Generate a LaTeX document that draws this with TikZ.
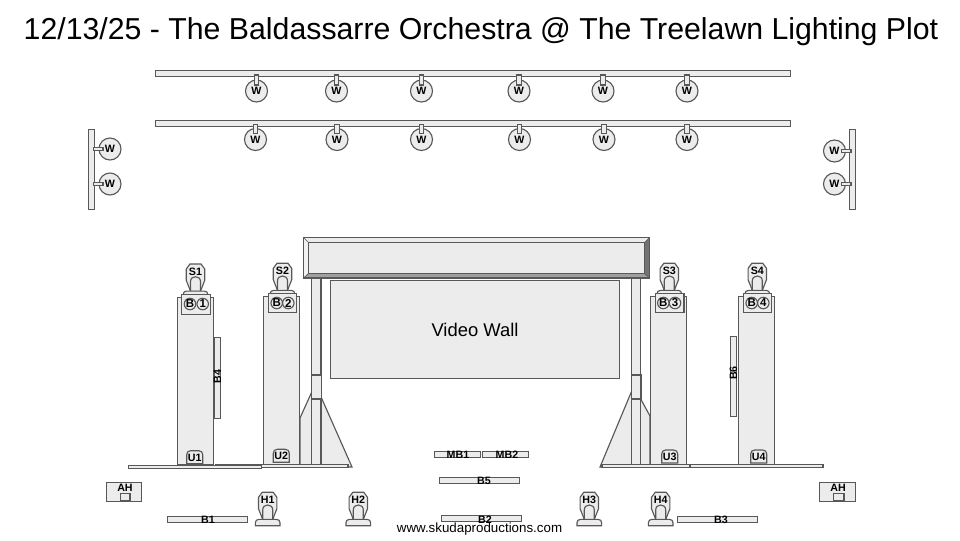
\documentclass[tikz,border=0pt]{standalone}
\usepackage{fontspec}
\setmainfont{Liberation Sans}
\definecolor{fillc}{HTML}{ECECEC}
\definecolor{linec}{HTML}{585858}
\tikzset{
  part/.style={draw=linec,fill=fillc,line width=0.85pt,line join=miter},
  lab/.style={inner sep=0pt,outer sep=0pt,anchor=base,text=black,font=\fontsize{8}{9}\selectfont\bfseries},
  labb/.style={lab,font=\fontsize{8}{9}\selectfont\bfseries},
  txt/.style={inner sep=0pt,outer sep=0pt,anchor=base,text=black},
  wlamp/.style={part,circle,minimum size=16.5pt,inner sep=0pt,font=\fontsize{8}{9}\selectfont\bfseries},
  bdisc/.style={part,circle,minimum size=8.6pt,inner sep=0pt,font=\fontsize{8.6}{10}\selectfont\bfseries}
}
% spot / head fixture: centre x, bottom y, label
\newcommand{\fixture}[3]{%
  \begin{scope}[shift={(#1,#2)}]
    \draw[part] (-5.5,-33.4) -- (5.5,-33.4) -- (9.2,-28.4) -- (9.2,-17) -- (5,-6.3) -- (-5,-6.3) -- (-9.2,-17) -- (-9.2,-28.4) -- cycle;
    \draw[part] (-5,-6) -- (-5,-15.7) .. controls (-5,-19) and (-2.8,-20.7) .. (0,-20.7) .. controls (2.8,-20.7) and (5,-19) .. (5,-15.7) -- (5,-6) -- cycle;
    \draw[part] (-12.3,0) -- (-12.3,-3) .. controls (-12.3,-5) and (-11,-6.3) .. (-9,-6.3) -- (9,-6.3) .. controls (11,-6.3) and (12.3,-5) .. (12.3,-3) -- (12.3,0) -- cycle;
    \node[lab] (#3) at (0,-22) {#3};
  \end{scope}}
% rounded-top U tag: x1, y1, label
\newcommand{\utag}[3]{%
  \draw[part] (#1,#2+13) -- (#1,#2+4) .. controls (#1,#2+1.5) and (#1+1.5,#2) .. (#1+4,#2) -- (#1+12,#2) .. controls (#1+14.5,#2) and (#1+16,#2+1.5) .. (#1+16,#2+4) -- (#1+16,#2+13) -- cycle;
  \node[lab] (#3) at (#1+8,#2+10.3) {#3};}
\begin{document}
\begin{tikzpicture}[x=0.75pt,y=-0.75pt]
\useasboundingbox (0,0) rectangle (960,540);
\node[txt,font=\fontsize{22.7}{27}\selectfont] (title) at (481,39.5) {12/13/25 - The Baldassarre Orchestra @ The Treelawn Lighting Plot};

% overhead trusses
\draw[part] (155.5,70.5) rectangle (790.5,76.5);
\draw[part] (155.5,120.5) rectangle (790.5,126.5);
\foreach \x/\n in {256.5/a,336.5/b,421.5/c,519/d,603/e,687/f}{
  \node[wlamp] (wa\n) at (\x,91) {W};
  \draw[part] (\x-2.2,75) rectangle (\x+2.2,85);
}
\foreach \x/\n in {255.5/a,337/b,421.5/c,519.5/d,604/e,687/f}{
  \node[wlamp] (wb\n) at (\x,139.5) {W};
  \draw[part] (\x-2.2,124.5) rectangle (\x+2.2,133.5);
}
% side booms
\draw[part] (88.5,129.5) rectangle (94.5,209.5);
\draw[part] (849.5,129.5) rectangle (855.5,209.5);
\foreach \y/\n in {149/a,184/b}{
  \node[wlamp] (wl\n) at (110,\y) {W};
  \draw[part] (93.5,\y-1.7) rectangle (103,\y+1.7);
}
\foreach \y/\n in {151/a,184/b}{
  \node[wlamp] (wr\n) at (834.5,\y) {W};
  \draw[part] (841.5,\y-1.7) rectangle (851,\y+1.7);
}

% ground support triangles
\draw[part] (300,418) -- (311.3,393) -- (321.5,398) -- (352,467) -- (300,467) -- cycle;
\draw[part] (650,416) -- (640.7,399) -- (631.3,392) -- (600,467) -- (650,467) -- cycle;
% bases
\draw[part] (261.7,464.5) rectangle (348,467.5);
\draw[part] (602,464.5) rectangle (690,467.5);
\draw[part] (690,464.5) rectangle (823,467.5);
\draw[part] (128.3,465.5) rectangle (261.7,468.5);
\draw[draw=linec,line width=1.1pt] (215,464.8) -- (261.7,464.8);
% posts
\draw[part] (311.3,277) rectangle (321,464.3);
\draw[part] (311.3,375) rectangle (321.5,399);
\draw[part] (631.3,277) rectangle (640.7,464.3);
\draw[part] (631.3,375) rectangle (641,399);

% header
\fill[fillc] (303,237.5) rectangle (649.5,278);
\fill[fillc!70!white] (303.5,237.5) -- (308.5,242.5) -- (308.5,273.5) -- (303.5,278) -- cycle;
\fill[gray!90!black] (649.5,237.5) -- (644.5,242.5) -- (644.5,273.5) -- (649.5,278) -- cycle;
\fill[gray!75!white] (303.5,278) -- (308.5,273.5) -- (644.5,273.5) -- (649.5,278) -- cycle;
\draw[draw=linec,line width=0.85pt] (303.5,237.5) rectangle (649.5,278);
\draw[draw=linec,line width=0.7pt] (308.5,242.5) rectangle (644.5,273.5);
\draw[draw=linec,line width=0.5pt] (303.5,237.5) -- (308.5,242.5) (649.5,237.5) -- (644.5,242.5) (303.5,278) -- (308.5,273.5) (649.5,278) -- (644.5,273.5);

% video wall
\draw[part] (330.5,280.5) rectangle (619.5,378.5);
\node[txt,font=\fontsize{13.8}{16}\selectfont] (video) at (475,336) {Video Wall};

% spots
\fixture{195.5}{297.4}{S1}
\fixture{282.5}{296.7}{S2}
\fixture{669.3}{296.7}{S3}
\fixture{757.3}{296.7}{S4}

% stacks
\draw[part] (177.5,297.5) rectangle (213.5,465);
\draw[part] (263.5,296.5) rectangle (299.5,464.3);
\draw[part] (650.5,296.5) rectangle (686.5,464.3);
\draw[part] (738.5,296.5) rectangle (774.5,464.3);

% beam boxes
\draw[part] (181.5,294.7) rectangle (210.5,314.5);
\draw[part] (268.5,293.5) rectangle (296.5,312.5);
\draw[part] (655.5,293.5) rectangle (684,312.5);
\draw[part] (743.5,293.5) rectangle (771.5,312.5);
\foreach \xa/\xb/\y/\n in {190/202.7/304/1,276.7/288.3/303/2,663.3/675/303/3,751.7/763.3/303/4}{
  \node[bdisc] (bb\n) at (\xa,\y) {B};
  \node[bdisc] (bn\n) at (\xb,\y) {\n};
}

% side bars
\draw[part] (214,337.5) rectangle (220.5,418.5);
\node[labb,anchor=center,rotate=90] (B4) at (217.5,376.5) {B4};
\draw[part] (730.5,336.5) rectangle (736.5,416.5);
\node[labb,anchor=center,rotate=90] (B6) at (733.5,373) {B6};

% U tags
\utag{186.7}{450.7}{U1}
\utag{273.3}{449.3}{U2}
\utag{661.7}{450}{U3}
\utag{750.7}{450}{U4}

% audience hazers
\draw[part] (106.5,482.5) rectangle (141.5,501.5);
\draw[part] (120.5,493.5) rectangle (130,501);
\node[lab] (AHl) at (125,491) {AH};
\draw[part] (819.5,482.5) rectangle (855.5,501.5);
\draw[part] (833.5,493.5) rectangle (844,501);
\node[lab] (AHr) at (838,491) {AH};

% floor bars
\foreach \xa/\xb/\ya/\yb in {167.5/247.5/516.5/522.5,677.5/757.5/516.5/522.5,439.5/519.5/477.5/483.5,441.5/521.5/515.5/521.5,434.5/480.5/451.5/457.5,482.5/528.5/451.5/457.5}{
  \draw[part] (\xa,\ya) rectangle (\xb,\yb);
}
\node[labb] (B1) at (208,523) {B1};
\node[labb] (B3) at (721,523) {B3};
\node[labb] (B5) at (484,484) {B5};
\node[labb] (B2) at (485,523) {B2};
\node[labb] (MB1) at (458,458) {MB1};
\node[labb] (MB2) at (507,458) {MB2};

% house fixtures
\fixture{267.7}{525.7}{H1}
\fixture{358.3}{525.7}{H2}
\fixture{589.3}{525.7}{H3}
\fixture{660.7}{525.7}{H4}

\node[txt,font=\fontsize{10}{12}\selectfont] (url) at (479.5,532.5) {www.skudaproductions.com};
\end{tikzpicture}
\end{document}
